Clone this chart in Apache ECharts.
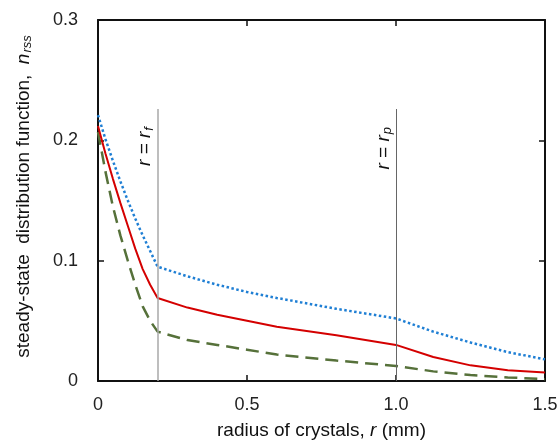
<!DOCTYPE html>
<html>
<head>
<meta charset="utf-8">
<title>steady-state distribution</title>
<script src="https://cdn.jsdelivr.net/npm/echarts@6/dist/echarts.min.js"></script>
<style>
  html, body { margin: 0; padding: 0; background: #fff; }
  #chart { width: 560px; height: 441px; }
</style>
</head>
<body>
<div id="chart"></div>
<script>
// radius r (mm) where the curves were read
var rValues = [0, 0.025, 0.05, 0.075, 0.1, 0.125, 0.15, 0.175, 0.2, 0.3, 0.4, 0.5, 0.6, 0.8, 1.0, 1.125, 1.25, 1.375, 1.5];
// n_rss, three cases
var blueDotted = [0.221, 0.201, 0.183, 0.166, 0.150, 0.135, 0.121, 0.108, 0.095, 0.087, 0.080, 0.074, 0.069, 0.060, 0.052, 0.041, 0.032, 0.024, 0.018];
var redSolid   = [0.212, 0.189, 0.168, 0.148, 0.129, 0.110, 0.093, 0.080, 0.069, 0.061, 0.055, 0.050, 0.045, 0.038, 0.030, 0.020, 0.013, 0.009, 0.007];
var greenDash  = [0.207, 0.174, 0.145, 0.121, 0.100, 0.080, 0.062, 0.050, 0.041, 0.034, 0.030, 0.026, 0.022, 0.017, 0.0125, 0.008, 0.005, 0.003, 0.0015];
// guide lines r = r_f and r = r_p
var guideX = [0.2, 1.0];
var guideTop = 0.226;
var xTicks = ['0', '0.5', '1.0', '1.5'];
var yTicks = ['0', '0.1', '0.2', '0.3'];

function pairs(ys) {
  return ys.map(function (y, i) { return [rValues[i], y]; });
}

var chart = echarts.init(document.getElementById('chart'));
var font = '"Liberation Sans", Arial, sans-serif';
function richSet(size) {
  return {
    i: { fontStyle: 'italic', fontSize: size, fontFamily: font, color: '#111' },
    n: { fontSize: size, fontFamily: font, color: '#111' },
    s: { fontStyle: 'italic', fontSize: Math.round(size * 0.68), fontFamily: font, color: '#111', padding: [Math.round(size * 0.4), 0, 0, 1] }
  };
}

function guide(x, sub, color, width) {
  return [
    { coord: [x, 0], lineStyle: { color: color, width: width, type: 'solid' },
      label: { show: true, position: 'insideEndTop', distance: [18, 2],
               formatter: '{i|r}{n| = }{i|r}{s|' + sub + '}', rich: richSet(19) } },
    { coord: [x, guideTop] }
  ];
}

var tickStyle = { inside: true, length: 6, lineStyle: { color: '#111', width: 1.5 } };
var lineStyle = { color: '#111', width: 2 };

var option = {
  animation: false,
  grid: { left: 98, right: 15, top: 20, bottom: 60, outerBoundsMode: 'none' },
  xAxis: [{
    type: 'value', min: 0, max: 1.5, interval: 0.5,
    name: '{n|radius of crystals, }{i|r}{n| (mm)}',
    nameLocation: 'middle', nameGap: 40,
    nameTextStyle: { rich: richSet(19) },
    axisLine: { onZero: false, lineStyle: lineStyle },
    axisTick: tickStyle,
    axisLabel: { fontSize: 18, fontFamily: font, color: '#222', margin: 15,
                 formatter: function (v) { return xTicks[Math.round(v * 2)]; } },
    splitLine: { show: false }
  }, {
    type: 'value', min: 0, max: 1.5, interval: 0.5, position: 'top',
    axisLine: { show: true, onZero: false, lineStyle: lineStyle },
    axisTick: tickStyle,
    axisLabel: { show: false }, splitLine: { show: false }
  }],
  yAxis: [{
    type: 'value', min: 0, max: 0.3, interval: 0.1,
    name: '{n|steady-state  distribution function,  }{i|n}{s|rss}',
    nameLocation: 'middle', nameGap: 64, nameRotate: 90,
    nameTextStyle: { rich: richSet(19), padding: [0, 0, 0, 8] },
    axisLine: { show: true, onZero: false, lineStyle: lineStyle },
    axisTick: tickStyle,
    axisLabel: { fontSize: 18, fontFamily: font, color: '#222', margin: 20,
                 formatter: function (v) { return yTicks[Math.round(v * 10)]; } },
    splitLine: { show: false }
  }, {
    type: 'value', min: 0, max: 0.3, interval: 0.1, position: 'right',
    axisLine: { show: true, onZero: false, lineStyle: lineStyle },
    axisTick: tickStyle,
    axisLabel: { show: false }, splitLine: { show: false }
  }],
  series: [{
    type: 'line', name: 'guides', data: [], symbol: 'none', silent: true,
    markLine: {
      symbol: 'none', silent: true, animation: false,
      data: [guide(guideX[0], 'f', '#a8a8a8', 1.5), guide(guideX[1], 'p', '#666', 1)]
    }
  }, {
    type: 'line', name: 'green', data: pairs(greenDash), symbol: 'none',
    lineStyle: { color: '#56713a', width: 2.5, type: [13, 7] }
  }, {
    type: 'line', name: 'red', data: pairs(redSolid), symbol: 'none',
    lineStyle: { color: '#d40000', width: 2 }
  }, {
    type: 'line', name: 'blue', data: pairs(blueDotted), symbol: 'none',
    lineStyle: { color: '#1f7fd4', width: 2.5, type: [2.5, 2.5] }
  }]
};

chart.setOption(option);
</script>
</body>
</html>
